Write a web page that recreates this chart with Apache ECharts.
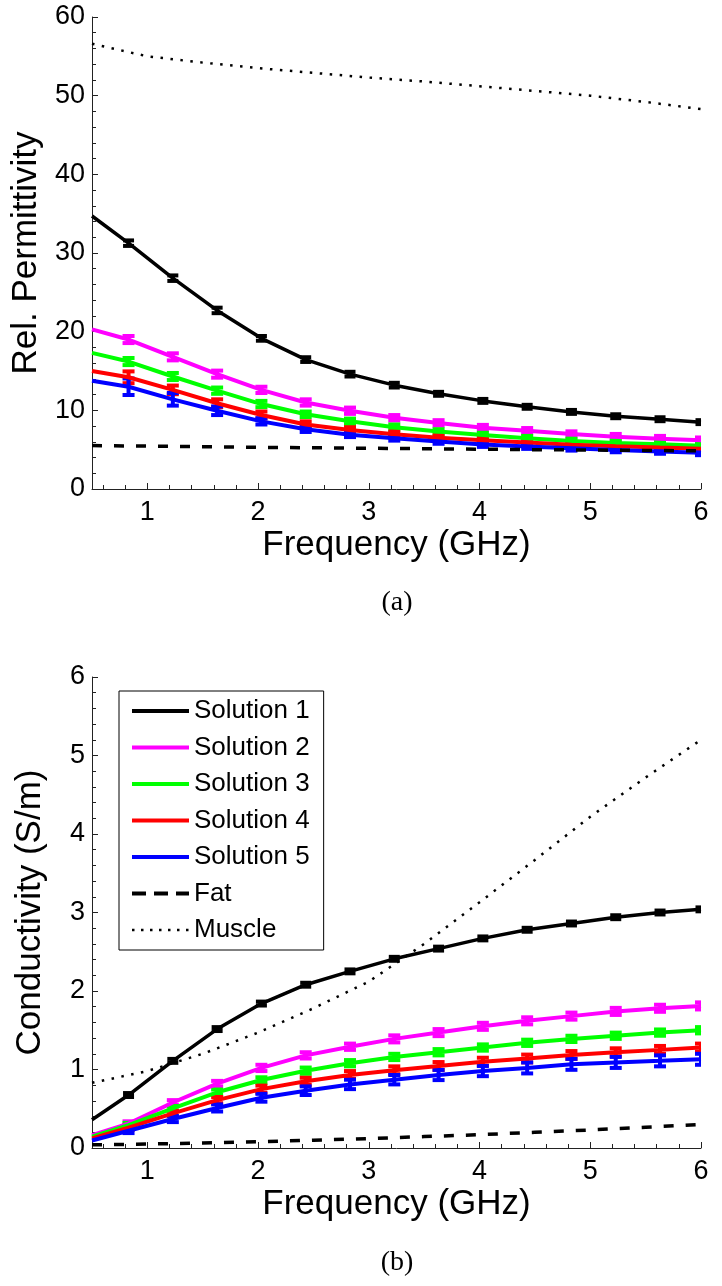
<!DOCTYPE html>
<html><head><meta charset="utf-8">
<script src="https://cdn.jsdelivr.net/npm/echarts@6/dist/echarts.min.js"></script>
<style>html,body{margin:0;padding:0;background:#fff}#c{width:722px;height:1286px}</style>
</head><body><div id="c"></div>
<script>
// ---------- data ----------
const freq = [0.5, 0.83, 1.23, 1.63, 2.03, 2.43, 2.83, 3.23, 3.63, 4.03, 4.43, 4.83, 5.23, 5.63, 6.0];
const solutionNames = ['Solution 1', 'Solution 2', 'Solution 3', 'Solution 4', 'Solution 5'];
const tissueNames = ['Fat', 'Muscle'];

// relative permittivity (a)
const permSol1 = [34.7, 31.25, 26.8, 22.7, 19.15, 16.45, 14.6, 13.2, 12.1, 11.2, 10.45, 9.8, 9.25, 8.87, 8.5];
const permSol2 = [20.3, 19.0, 16.8, 14.6, 12.6, 11.0, 9.95, 9.05, 8.4, 7.8, 7.4, 6.98, 6.65, 6.4, 6.2];
const permSol3 = [17.3, 16.2, 14.3, 12.5, 10.8, 9.5, 8.6, 7.85, 7.3, 6.85, 6.45, 6.1, 5.86, 5.7, 5.5];
const permSol4 = [15.0, 14.2, 12.6, 10.9, 9.4, 8.2, 7.5, 6.95, 6.5, 6.2, 5.9, 5.62, 5.44, 5.27, 5.13];
const permSol5 = [13.75, 13.0, 11.4, 9.95, 8.6, 7.6, 6.9, 6.45, 6.05, 5.65, 5.4, 5.18, 4.97, 4.78, 4.6];
// error half-widths at freq[1..14]
const permErr1 = [0.35, 0.35, 0.35, 0.3, 0.3, 0.3, 0.3, 0.25, 0.25, 0.25, 0.25, 0.25, 0.25, 0.25];
const permErr2 = [0.45, 0.45, 0.45, 0.4, 0.4, 0.4, 0.35, 0.35, 0.35, 0.35, 0.35, 0.35, 0.35, 0.35];
const permErr3 = [0.45, 0.45, 0.4, 0.4, 0.35, 0.35, 0.35, 0.3, 0.3, 0.3, 0.3, 0.3, 0.3, 0.3];
const permErr4 = [0.75, 0.55, 0.5, 0.45, 0.4, 0.35, 0.35, 0.3, 0.3, 0.3, 0.3, 0.3, 0.3, 0.3];
const permErr5 = [1.05, 0.8, 0.55, 0.4, 0.35, 0.3, 0.3, 0.3, 0.3, 0.3, 0.3, 0.3, 0.3, 0.3];

// conductivity (b)
const condSol1 = [0.36, 0.675, 1.11, 1.515, 1.84, 2.08, 2.25, 2.41, 2.54, 2.67, 2.78, 2.86, 2.94, 3.0, 3.04];
const condSol2 = [0.165, 0.31, 0.58, 0.82, 1.02, 1.18, 1.29, 1.39, 1.47, 1.55, 1.62, 1.68, 1.74, 1.78, 1.81];
const condSol3 = [0.145, 0.29, 0.505, 0.71, 0.866, 0.985, 1.08, 1.16, 1.22, 1.28, 1.34, 1.39, 1.43, 1.47, 1.5];
const condSol4 = [0.123, 0.26, 0.44, 0.61, 0.75, 0.85, 0.93, 0.99, 1.045, 1.1, 1.14, 1.185, 1.22, 1.25, 1.28];
const condSol5 = [0.095, 0.22, 0.37, 0.51, 0.64, 0.73, 0.81, 0.87, 0.93, 0.98, 1.02, 1.066, 1.09, 1.11, 1.13];
const condErr1 = [0.025, 0.025, 0.025, 0.025, 0.025, 0.025, 0.025, 0.025, 0.025, 0.025, 0.025, 0.025, 0.025, 0.025];
const condErr2 = [0.03, 0.03, 0.035, 0.04, 0.04, 0.04, 0.045, 0.045, 0.045, 0.045, 0.045, 0.045, 0.045, 0.045];
const condErr3 = [0.03, 0.03, 0.035, 0.035, 0.04, 0.04, 0.04, 0.04, 0.04, 0.04, 0.04, 0.04, 0.04, 0.04];
const condErr4 = [0.03, 0.035, 0.04, 0.045, 0.045, 0.05, 0.05, 0.05, 0.05, 0.05, 0.05, 0.05, 0.05, 0.05];
const condErr5 = [0.03, 0.04, 0.045, 0.05, 0.055, 0.06, 0.06, 0.065, 0.065, 0.07, 0.07, 0.07, 0.07, 0.07];

// tissue reference curves
const tissueFreq = [0.5, 1, 1.5, 2, 2.5, 3, 3.5, 4, 4.5, 5, 5.5, 6];
const fatPerm = [5.52, 5.45, 5.38, 5.3, 5.24, 5.18, 5.12, 5.06, 5.0, 4.95, 4.9, 4.85];
const musclePerm = [56.6, 55.0, 54.2, 53.5, 52.9, 52.3, 51.8, 51.2, 50.6, 50.0, 49.2, 48.3];
const fatCond = [0.04, 0.05, 0.065, 0.08, 0.1, 0.12, 0.145, 0.17, 0.2, 0.23, 0.265, 0.30];
const muscleCond = [0.83, 0.98, 1.2, 1.47, 1.78, 2.12, 2.6, 3.13, 3.67, 4.22, 4.72, 5.2];

// ticks
const xTickValues = [1, 2, 3, 4, 5, 6];
const xMinorTickValues = [0.6, 0.8, 1.2, 1.4, 1.6, 1.8, 2.2, 2.4, 2.6, 2.8, 3.2, 3.4, 3.6, 3.8,
  4.2, 4.4, 4.6, 4.8, 5.2, 5.4, 5.6, 5.8];
const captions = ['(a)', '(b)'];
const yNames = ['Rel. Permittivity', 'Conductivity (S/m)'];
const xName = 'Frequency (GHz)';

// ---------- styling ----------
const colors = ['#000000', '#ff00ff', '#00ff00', '#ff0000', '#0000ff'];
const widths = [3.5, 4, 4, 4, 4];
const FATSTYLE = { color: '#000', width: 3.5, type: [10, 12] };
const MUSCLESTYLE = { color: '#000', width: 2.5, type: [2.5, 7.5] };
const FONT = '"Liberation Sans", Arial, Helvetica, sans-serif';
const SERIF = '"Liberation Serif", "DejaVu Serif", serif';

const permSols = [permSol1, permSol2, permSol3, permSol4, permSol5];
const permErrs = [permErr1, permErr2, permErr3, permErr4, permErr5];
const condSols = [condSol1, condSol2, condSol3, condSol4, condSol5];
const condErrs = [condErr1, condErr2, condErr3, condErr4, condErr5];

function pairs(xs, ys) { return xs.map((x, i) => [x, ys[i]]); }
function errData(ys, errs) { return errs.map((e, i) => [freq[i + 1], ys[i + 1], e]); }

function errRender(color, capW, lw) {
  return function (params, api) {
    const x = api.value(0), y = api.value(1), e = api.value(2);
    const t = api.coord([x, y + e]);
    const b = api.coord([x, y - e]);
    const h = capW / 2;
    const st = { stroke: color, lineWidth: lw };
    return { type: 'group', children: [
      { type: 'line', shape: { x1: t[0], y1: t[1], x2: b[0], y2: b[1] }, style: st },
      { type: 'line', shape: { x1: t[0] - h, y1: t[1], x2: t[0] + h, y2: t[1] }, style: st },
      { type: 'line', shape: { x1: b[0] - h, y1: b[1], x2: b[0] + h, y2: b[1] }, style: st }
    ]};
  };
}

const series = [];
[[permSols, permErrs, fatPerm, musclePerm], [condSols, condErrs, fatCond, muscleCond]].forEach((set, g) => {
  const [sols, errs, fat, muscle] = set;
  sols.forEach((ys, k) => {
    series.push({
      type: 'line', name: solutionNames[k], xAxisIndex: g, yAxisIndex: g,
      data: pairs(freq, ys), symbol: 'none', showSymbol: false, smooth: false,
      lineStyle: { color: colors[k], width: widths[k] }, itemStyle: { color: colors[k] },
      z: 3, animation: false
    });
    series.push({
      type: 'custom', name: solutionNames[k] + ' err', xAxisIndex: g, yAxisIndex: g,
      data: errData(ys, errs[k]), encode: { x: 0, y: 1 }, clip: true,
      renderItem: errRender(colors[k], k === 0 ? 11 : 12, 4),
      z: 3, animation: false
    });
  });
  series.push({
    type: 'line', name: tissueNames[0], xAxisIndex: g, yAxisIndex: g,
    data: pairs(tissueFreq, fat), symbol: 'none', showSymbol: false,
    lineStyle: FATSTYLE, itemStyle: { color: '#000' }, z: 4, animation: false
  });
  series.push({
    type: 'line', name: tissueNames[1], xAxisIndex: g, yAxisIndex: g,
    data: pairs(tissueFreq, muscle), symbol: 'none', showSymbol: false,
    lineStyle: MUSCLESTYLE, itemStyle: { color: '#000' }, z: 4, animation: false
  });
});

const axisCol = '#222';
function xMain(g) {
  return {
    type: 'value', gridIndex: g, min: 0.5, max: 6, position: 'bottom',
    axisLine: { show: true, onZero: false, lineStyle: { color: axisCol, width: 1 } },
    axisTick: { show: true, inside: true, length: 6, customValues: xTickValues, lineStyle: { color: axisCol } },
    axisLabel: { customValues: xTickValues, color: '#000', fontSize: 27, fontFamily: FONT, margin: 10 },
    splitLine: { show: false },
    name: xName, nameLocation: 'middle', nameGap: 39,
    nameTextStyle: { fontSize: 35, color: '#000', fontFamily: FONT }
  };
}
function xMinor(g) {
  return {
    type: 'value', gridIndex: g, min: 0.5, max: 6, position: 'bottom',
    axisLine: { show: false },
    axisTick: { show: true, inside: true, length: 4, customValues: xMinorTickValues, lineStyle: { color: axisCol } },
    axisLabel: { show: false }, splitLine: { show: false }
  };
}
function yAx(g, max, interval) {
  return {
    type: 'value', gridIndex: g, min: 0, max: max, interval: interval,
    axisLine: { show: true, onZero: false, lineStyle: { color: axisCol, width: 1 } },
    axisTick: { show: true, inside: true, length: 6, lineStyle: { color: axisCol } },
    minorTick: { show: true, splitNumber: 5, length: 4, lineStyle: { color: axisCol } },
    axisLabel: { color: '#000', fontSize: 27, fontFamily: FONT, margin: 7 },
    splitLine: { show: false },
    name: yNames[g], nameLocation: 'middle', nameGap: 44,
    nameTextStyle: { fontSize: 35, color: '#000', fontFamily: FONT }
  };
}

const legendData = solutionNames.map((n, k) => ({
  name: n, itemStyle: { opacity: 0 }, lineStyle: { color: colors[k], width: 4, type: 'solid' }
})).concat([
  { name: tissueNames[0], itemStyle: { opacity: 0 }, lineStyle: { color: '#000', width: 4, type: [14, 8] } },
  { name: tissueNames[1], itemStyle: { opacity: 0 }, lineStyle: { color: '#000', width: 2.5, type: [2.5, 6.5] } }
]);

const option = {
  backgroundColor: '#fff',
  animation: false,
  grid: [
    { left: 92, top: 17, width: 609, height: 472 },
    { left: 92, top: 677, width: 609, height: 471 }
  ],
  xAxis: [xMain(0), xMain(1), xMinor(0), xMinor(1)],
  yAxis: [yAx(0, 60, 10), yAx(1, 6, 1)],
  legend: {
    data: legendData,
    orient: 'vertical', left: 119, top: 691,
    itemWidth: 57, itemHeight: 14, itemGap: 10.5, itemTextGap: 6,
    padding: [7, 14, 7, 11],
    itemStyle: { opacity: 0 },
    backgroundColor: '#fff', borderColor: '#000', borderWidth: 1, borderRadius: 0,
    textStyle: { fontSize: 26, lineHeight: 26, color: '#000', fontFamily: FONT },
    selectedMode: false
  },
  graphic: [
    { type: 'text', x: 397, y: 603, style: { text: captions[0], fontSize: 28, fontFamily: SERIF, fill: '#000', align: 'center', verticalAlign: 'middle' } },
    { type: 'text', x: 397, y: 1263, style: { text: captions[1], fontSize: 28, fontFamily: SERIF, fill: '#000', align: 'center', verticalAlign: 'middle' } }
  ],
  series: series
};

const chart = echarts.init(document.getElementById('c'), null, { renderer: 'canvas' });
chart.setOption(option);
</script>
</body></html>
